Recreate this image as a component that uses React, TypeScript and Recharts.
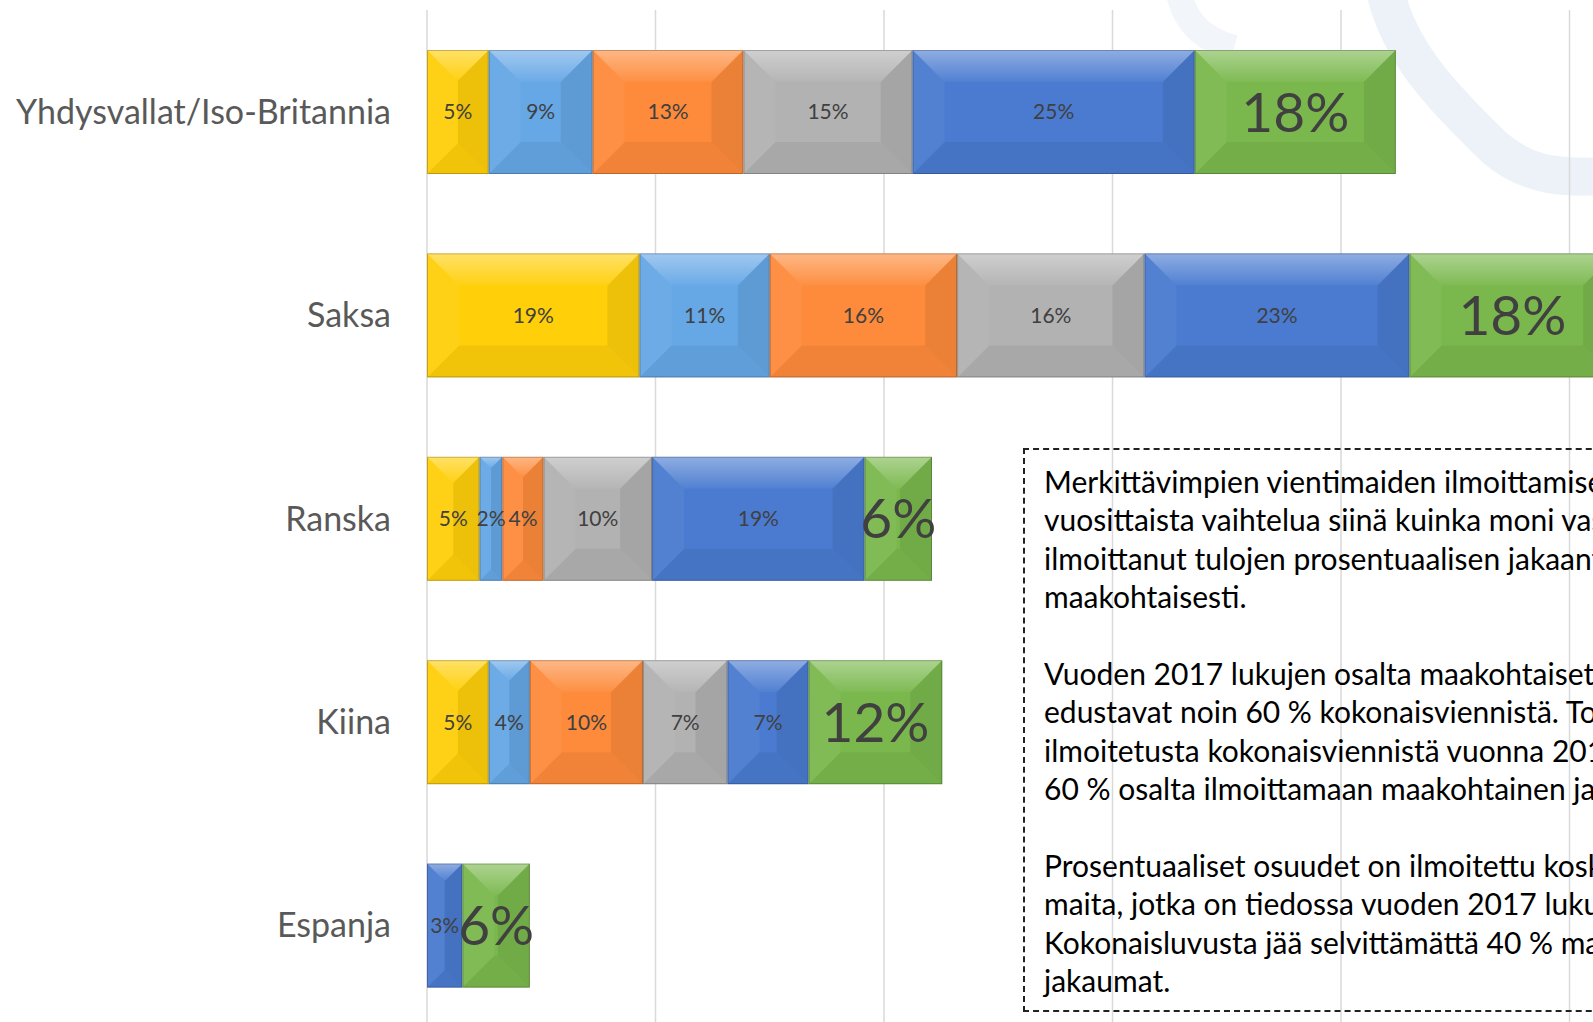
import React from "react";
import { BarChart, Bar, XAxis, YAxis, CartesianGrid, LabelList } from "recharts";

// Categories and shares (%)
const categories = ["Yhdysvallat/Iso-Britannia", "Saksa", "Ranska", "Kiina", "Espanja"];
const yellow = [5.4, 18.6, 4.6, 5.4, 0];
const lightBlue = [9.1, 11.4, 2.0, 3.6, 0];
const orange = [13.2, 16.4, 3.6, 9.9, 0];
const gray = [14.8, 16.4, 9.5, 7.4, 0];
const blue = [24.7, 23.2, 18.6, 7.1, 3.1];
const green = [17.6, 18.0, 5.9, 11.7, 5.9];
const xTicks = [0, 20, 40, 60, 80, 100, 120];

const series = [
  { key: "s1", values: yellow, color: "#FFCF0A" },
  { key: "s2", values: lightBlue, color: "#66A7E6" },
  { key: "s3", values: orange, color: "#FD8B3B" },
  { key: "s4", values: gray, color: "#B2B2B2" },
  { key: "s5", values: blue, color: "#4A7BD0" },
  { key: "s6", values: green, color: "#7AB84D" },
];

const data = categories.map((name, i) => {
  const row: Record<string, string | number> = { name };
  series.forEach((s) => (row[s.key] = s.values[i]));
  return row;
});

const noteLines = [
  "Merkittävimpien vientimaiden ilmoittamisessa",
  "vuosittaista vaihtelua siinä kuinka moni vastaaja",
  "ilmoittanut tulojen prosentuaalisen jakaantumisen",
  "maakohtaisesti.",
  "",
  "Vuoden 2017 lukujen osalta maakohtaiset luvut",
  "edustavat noin 60 % kokonaisviennistä. Toisin",
  "ilmoitetusta kokonaisviennistä vuonna 2017",
  "60 % osalta ilmoittamaan maakohtainen jakauma",
  "",
  "Prosentuaaliset osuudet on ilmoitettu koskien",
  "maita, jotka on tiedossa vuoden 2017 lukujen",
  "Kokonaisluvusta jää selvittämättä 40 % maiden",
  "jakaumat.",
];

const FONT = "Lato, 'Open Sans', sans-serif";

// bar segment drawn with a soft bevel like the Office "angle" effect
function BevelBar(props: any) {
  const { x, y, width, height, fill } = props;
  if (!width || width <= 0.5) return null;
  const b = Math.min(32, width / 2, height / 2);
  const r = x + width;
  const btm = y + height;
  return (
    <g>
      <rect x={x} y={y} width={width} height={height} fill={fill} />
      <polygon
        points={`${x},${y} ${r},${y} ${r - b},${y + b} ${x + b},${y + b}`}
        fill="url(#topShine)"
      />
      <polygon
        points={`${x},${y} ${x + b},${y + b} ${x + b},${btm - b} ${x},${btm}`}
        fill="rgba(255,255,255,0.05)"
      />
      <polygon
        points={`${r},${y} ${r - b},${y + b} ${r - b},${btm - b} ${r},${btm}`}
        fill="rgba(0,0,0,0.07)"
      />
      <polygon
        points={`${x},${btm} ${r},${btm} ${r - b},${btm - b} ${x + b},${btm - b}`}
        fill="rgba(0,0,0,0.05)"
      />
      <rect
        x={x + 0.5}
        y={y + 0.5}
        width={Math.max(0, width - 1)}
        height={height - 1}
        fill="none"
        stroke="rgba(0,0,0,0.22)"
        strokeWidth={1}
      />
    </g>
  );
}

const fmt = (v: any) => (v ? `${Math.round(Number(v))}%` : "");

export default function App() {
  return (
    <div
      style={{
        position: "fixed",
        left: 0,
        top: 0,
        width: 1593,
        height: 1022,
        overflow: "hidden",
        background: "#fff",
      }}
    >
      <svg width={1593} height={1022} style={{ position: "absolute", left: 0, top: 0 }}>
        <path
          d="M 1385 -10 C 1398 50, 1440 95, 1495 148 C 1530 178, 1565 178, 1610 176"
          fill="none"
          stroke="#EDF2F9"
          strokeWidth={38}
          strokeLinecap="round"
        />
        <path
          d="M 1176 -20 C 1182 20, 1199 38, 1234 48"
          fill="none"
          stroke="#F2F6FB"
          strokeWidth={26}
        />
      </svg>

      <div style={{ position: "absolute", left: 0, top: 0 }}>
        {/* plot runs past the bottom/right edge, as in the cropped slide */}
        <BarChart
          width={1800}
          height={1060}
          layout="vertical"
          data={data}
          margin={{ top: 10, right: 2, bottom: 3, left: 0 }}
          barSize={124}
        >
          <defs>
            <linearGradient id="topShine" x1="0" y1="0" x2="0" y2="1">
              <stop offset="0%" stopColor="#fff" stopOpacity={0.38} />
              <stop offset="100%" stopColor="#fff" stopOpacity={0.04} />
            </linearGradient>
          </defs>
          <CartesianGrid horizontal={false} stroke="#D9D9D9" strokeWidth={1.5} />
          <XAxis
            type="number"
            domain={[0, 120]}
            ticks={xTicks}
            height={30}
            axisLine={false}
            tickLine={false}
            tick={() => <g />}
          />
          <YAxis
            type="category"
            dataKey="name"
            width={427}
            axisLine={false}
            tickLine={false}
            tickMargin={30}
            tick={{ fill: "#595959", fontSize: 34, fontFamily: FONT }}
          />
          {series.map((s, i) => (
            <Bar
              key={s.key}
              dataKey={s.key}
              stackId="a"
              fill={s.color}
              shape={<BevelBar />}
              isAnimationActive={false}
            >
              <LabelList
                dataKey={s.key}
                position="center"
                formatter={fmt}
                fill="#404040"
                style={{ fontFamily: FONT, fontSize: i === 5 ? 55 : 21 }}
              />
            </Bar>
          ))}
        </BarChart>
      </div>

      <div
        style={{
          position: "absolute",
          left: 1023,
          top: 448,
          width: 820,
          height: 564,
          border: "2px dashed #222",
          boxSizing: "border-box",
          padding: "12px 0 0 19px",
          fontFamily: FONT,
          fontSize: 30,
          lineHeight: "38.4px",
          color: "#000",
          whiteSpace: "nowrap",
        }}
      >
        {noteLines.map((l, i) => (
          <div key={i} style={{ height: 38.4 }}>
            {l || "\u00a0"}
          </div>
        ))}
      </div>
    </div>
  );
}
